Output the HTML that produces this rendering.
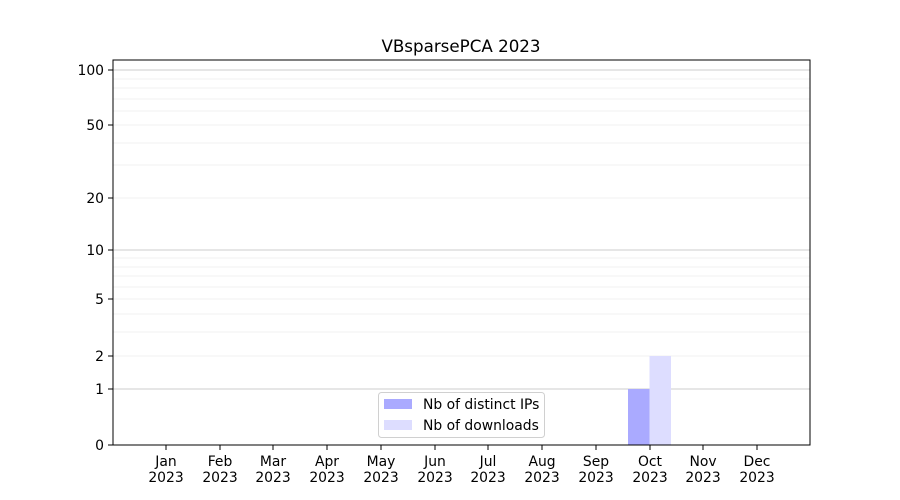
<!DOCTYPE html>
<html><head><style>body{margin:0;background:#fff}svg{display:block}text{font-family:"DejaVu Sans","Liberation Sans",sans-serif;font-size:13.9px;fill:#000}</style></head>
<body>
<svg width="900" height="500" xmlns="http://www.w3.org/2000/svg">
<rect width="900" height="500" fill="#fff"/>
<g stroke="#ebebeb" stroke-width="0.8">
<line x1="113" x2="810" y1="332" y2="332"/><line x1="113" x2="810" y1="314" y2="314"/>
<line x1="113" x2="810" y1="299" y2="299"/><line x1="113" x2="810" y1="287" y2="287"/>
<line x1="113" x2="810" y1="276" y2="276"/><line x1="113" x2="810" y1="267" y2="267"/>
<line x1="113" x2="810" y1="258" y2="258"/><line x1="113" x2="810" y1="198" y2="198"/>
<line x1="113" x2="810" y1="165" y2="165"/><line x1="113" x2="810" y1="143" y2="143"/>
<line x1="113" x2="810" y1="125" y2="125"/><line x1="113" x2="810" y1="111" y2="111"/>
<line x1="113" x2="810" y1="99" y2="99"/><line x1="113" x2="810" y1="88" y2="88"/>
<line x1="113" x2="810" y1="79" y2="79"/><line x1="113" x2="810" y1="356" y2="356"/>
</g>
<g stroke="#cccccc" stroke-width="1">
<line x1="113" x2="810" y1="389" y2="389"/><line x1="113" x2="810" y1="250" y2="250"/><line x1="113" x2="810" y1="70" y2="70"/>
</g>
<rect x="628" y="389" width="21.5" height="56" fill="#aaaaff"/>
<rect x="649.5" y="356" width="21.5" height="89" fill="#ddddff"/>
<rect x="113" y="60" width="697" height="385" fill="none" stroke="#000" stroke-width="1"/>
<g stroke="#000">
<line x1="108" x2="113" y1="445" y2="445"/><line x1="108" x2="113" y1="389" y2="389"/>
<line x1="108" x2="113" y1="356" y2="356"/><line x1="108" x2="113" y1="299" y2="299"/>
<line x1="108" x2="113" y1="250" y2="250"/><line x1="108" x2="113" y1="198" y2="198"/>
<line x1="108" x2="113" y1="125" y2="125"/><line x1="108" x2="113" y1="70" y2="70"/>
</g>
<g text-anchor="end">
<text x="104" y="450">0</text><text x="104" y="394">1</text><text x="104" y="361">2</text>
<text x="104" y="304">5</text><text x="104" y="255">10</text><text x="104" y="203">20</text>
<text x="104" y="130">50</text><text x="104" y="75">100</text>
</g>
<g text-anchor="middle" stroke="none">
<text x="166" y="466">Jan</text><text x="166" y="482">2023</text>
<text x="220" y="466">Feb</text><text x="220" y="482">2023</text>
<text x="273" y="466">Mar</text><text x="273" y="482">2023</text>
<text x="327" y="466">Apr</text><text x="327" y="482">2023</text>
<text x="381" y="466">May</text><text x="381" y="482">2023</text>
<text x="435" y="466">Jun</text><text x="435" y="482">2023</text>
<text x="488" y="466">Jul</text><text x="488" y="482">2023</text>
<text x="542" y="466">Aug</text><text x="542" y="482">2023</text>
<text x="596" y="466">Sep</text><text x="596" y="482">2023</text>
<text x="650" y="466">Oct</text><text x="650" y="482">2023</text>
<text x="703" y="466">Nov</text><text x="703" y="482">2023</text>
<text x="757" y="466">Dec</text><text x="757" y="482">2023</text>
<text x="461" y="52" style="font-size:16.7px">VBsparsePCA 2023</text>
</g>
<g stroke="#000">
<line x1="166" x2="166" y1="445" y2="450"/><line x1="220" x2="220" y1="445" y2="450"/><line x1="273" x2="273" y1="445" y2="450"/><line x1="327" x2="327" y1="445" y2="450"/><line x1="381" x2="381" y1="445" y2="450"/><line x1="435" x2="435" y1="445" y2="450"/><line x1="488" x2="488" y1="445" y2="450"/><line x1="542" x2="542" y1="445" y2="450"/><line x1="596" x2="596" y1="445" y2="450"/><line x1="650" x2="650" y1="445" y2="450"/><line x1="703" x2="703" y1="445" y2="450"/><line x1="757" x2="757" y1="445" y2="450"/>
</g>
<rect x="378.5" y="392.5" width="166" height="45" rx="3" fill="#fff" fill-opacity="0.8" stroke="#d0d0d0"/>
<rect x="384" y="399" width="28" height="10" fill="#aaaaff"/>
<rect x="384" y="420" width="28" height="10" fill="#ddddff"/>
<text x="423" y="409">Nb of distinct IPs</text>
<text x="423" y="430">Nb of downloads</text>
</svg>
</body></html>
